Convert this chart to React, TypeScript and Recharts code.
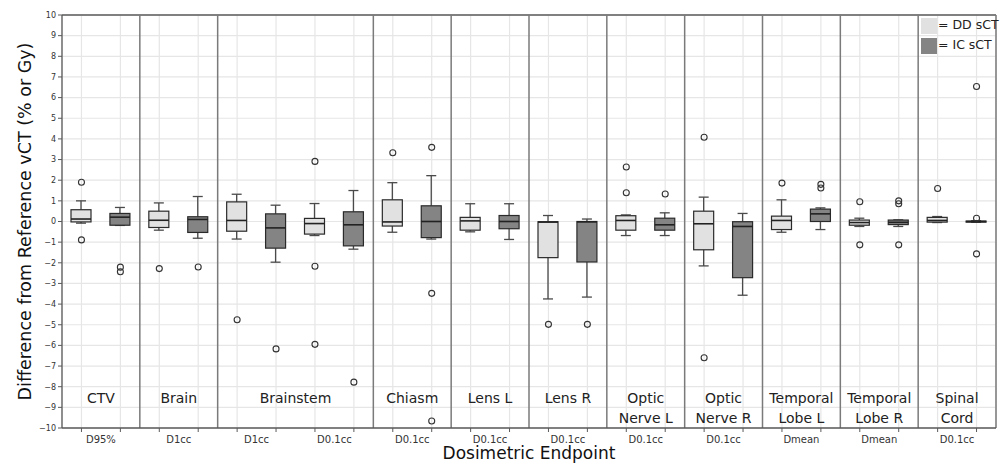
import {
  Bar,
  CartesianGrid,
  ComposedChart,
  Legend,
  ReferenceArea,
  ReferenceLine,
  Scatter,
  XAxis,
  YAxis,
} from 'recharts'

// anatomical regions along the x axis, and how many endpoint pairs each one spans
const REGIONS = [
  'CTV', 'Brain', 'Brainstem', 'Chiasm', 'Lens L', 'Lens R',
  'Optic\nNerve L', 'Optic\nNerve R', 'Temporal\nLobe L', 'Temporal\nLobe R', 'Spinal\nCord',
]
const REGION_PAIRS = [1, 1, 2, 1, 1, 1, 1, 1, 1, 1, 1]
const ENDPOINTS = [
  'D95%', 'D1cc', 'D1cc', 'D0.1cc', 'D0.1cc', 'D0.1cc',
  'D0.1cc', 'D0.1cc', 'D0.1cc', 'Dmean', 'Dmean', 'D0.1cc',
]
const SERIES = ['DD sCT', 'IC sCT']
const SERIES_FILL = ['#e1e1e1', '#848484']

// DD sCT boxes, one per endpoint
const DD_LOW = [-0.08, -0.42, -0.85, -0.68, -0.52, -0.5, -3.75, -0.68, -2.15, -0.52, -0.24, -0.05]
const DD_Q1 = [-0.02, -0.29, -0.47, -0.61, -0.22, -0.42, -1.75, -0.42, -1.37, -0.39, -0.18, -0.03]
const DD_MED = [0.12, 0.06, 0.05, -0.1, -0.02, 0.03, -0.03, 0.05, -0.11, 0.05, -0.05, 0.05]
const DD_Q3 = [0.57, 0.5, 0.95, 0.15, 1.05, 0.2, -0.01, 0.28, 0.5, 0.26, 0.07, 0.2]
const DD_HIGH = [1.0, 0.9, 1.32, 0.87, 1.88, 0.86, 0.29, 0.32, 1.18, 1.05, 0.16, 0.24]
const DD_OUT = [
  [1.9, -0.89], [-2.28], [-4.76], [2.91, -2.17, -5.95], [3.33], [],
  [-4.98], [2.64, 1.39], [4.08, -6.6], [1.86], [0.96, -1.13], [1.6],
]

// IC sCT boxes
const IC_LOW = [-0.19, -0.81, -1.97, -1.34, -0.85, -0.87, -3.66, -0.68, -3.57, -0.39, -0.24, -0.04]
const IC_Q1 = [-0.18, -0.53, -1.29, -1.18, -0.78, -0.35, -1.96, -0.42, -2.72, 0.0, -0.15, -0.03]
const IC_MED = [0.21, 0.1, -0.31, -0.16, 0.0, 0.0, -0.02, -0.16, -0.24, 0.37, -0.04, 0.0]
const IC_Q3 = [0.39, 0.23, 0.37, 0.47, 0.76, 0.29, 0.0, 0.16, -0.01, 0.6, 0.07, 0.02]
const IC_HIGH = [0.68, 1.21, 0.79, 1.5, 2.22, 0.86, 0.12, 0.42, 0.39, 0.66, 0.08, 0.04]
const IC_OUT = [
  [-2.21, -2.43], [-2.2], [-6.17], [-7.78], [3.59, -3.48, -9.66], [],
  [-4.98], [1.33], [], [1.8, 1.62], [1.0, 0.86, -1.13], [6.54, 0.16, -1.57],
]

const Y_TICKS = [-10, -9, -8, -7, -6, -5, -4, -3, -2, -1, 0, 1, 2, 3, 4, 5, 6, 7, 8, 9, 10]

const WIDTH = 1003
const HEIGHT = 464
const MARGIN = { top: 15, right: 7, bottom: 0, left: 0 }
const Y_AXIS_W = 62
const X_AXIS_H = 36
const SLOT_COUNT = ENDPOINTS.length * 2
const BAND = (WIDTH - MARGIN.left - MARGIN.right - Y_AXIS_W) / SLOT_COUNT
const FONT = '"DejaVu Sans", sans-serif'
const AXIS_COLOR = '#5a5a5a'

interface BoxRow {
  x: number
  lo: number
  q1: number
  med: number
  q3: number
  hi: number
  out: number[]
  range: [number, number]
  fill: string
}

const BOX_ROWS: BoxRow[] = ENDPOINTS.flatMap((_, i) => [
  {
    x: i * 2 + 0.5,
    lo: DD_LOW[i], q1: DD_Q1[i], med: DD_MED[i], q3: DD_Q3[i], hi: DD_HIGH[i],
    out: DD_OUT[i],
    range: [DD_LOW[i], DD_HIGH[i]] as [number, number],
    fill: SERIES_FILL[0],
  },
  {
    x: i * 2 + 1.5,
    lo: IC_LOW[i], q1: IC_Q1[i], med: IC_MED[i], q3: IC_Q3[i], hi: IC_HIGH[i],
    out: IC_OUT[i],
    range: [IC_LOW[i], IC_HIGH[i]] as [number, number],
    fill: SERIES_FILL[1],
  },
])

const OUTLIER_ROWS = BOX_ROWS.flatMap((r) => r.out.map((v) => ({ x: r.x, v })))
const SLOT_TICKS = BOX_ROWS.map((r) => r.x)

// region spans in x units (2 slots per endpoint pair)
const REGION_SPANS = REGIONS.map((name, i) => {
  const start = REGION_PAIRS.slice(0, i).reduce((s, n) => s + n, 0) * 2
  return { name, x1: start, x2: start + REGION_PAIRS[i] * 2 }
})

function BoxShape(props: any) {
  const { x, y, width, height, payload } = props
  if (!payload || width == null) return null
  const top = Math.min(y, y + height)
  const bottom = Math.max(y, y + height)
  const span = payload.hi - payload.lo
  // linear map inside the whisker range the library already scaled
  const toY = (v: number) => (span === 0 ? top : top + ((payload.hi - v) / span) * (bottom - top))
  const cx = x + width / 2
  const cap = width / 4
  const yQ3 = toY(payload.q3)
  const yQ1 = toY(payload.q1)
  const yMed = toY(payload.med)
  return (
    <g>
      <line x1={cx} x2={cx} y1={top} y2={yQ3} stroke="#4a4a4a" strokeWidth={1.3} />
      <line x1={cx} x2={cx} y1={yQ1} y2={bottom} stroke="#4a4a4a" strokeWidth={1.3} />
      <line x1={cx - cap} x2={cx + cap} y1={top} y2={top} stroke="#4a4a4a" strokeWidth={1.3} />
      <line x1={cx - cap} x2={cx + cap} y1={bottom} y2={bottom} stroke="#4a4a4a" strokeWidth={1.3} />
      <rect
        x={x}
        y={yQ3}
        width={width}
        height={Math.max(yQ1 - yQ3, 0.5)}
        fill={payload.fill}
        stroke="#2a2a2a"
        strokeWidth={1.2}
      />
      <line x1={x} x2={x + width} y1={yMed} y2={yMed} stroke="#222" strokeWidth={1.6} />
    </g>
  )
}

function OutlierDot(props: any) {
  const { cx, cy } = props
  if (cx == null || cy == null) return null
  return <circle cx={cx} cy={cy} r={3} fill="none" stroke="#333" strokeWidth={1.1} />
}

function EndpointTick(props: any) {
  const { x, y, payload } = props
  const slot = Math.floor(payload.value)
  if (slot % 2 === 1) return <g />
  return (
    <text
      x={x + BAND / 2}
      y={y + 8.5}
      textAnchor="middle"
      fontSize={10}
      fontFamily={FONT}
      fill="#333"
    >
      {ENDPOINTS[slot / 2]}
    </text>
  )
}

function RegionLabel(name: string) {
  return (props: any) => {
    const vb = props.viewBox
    if (!vb) return null
    const lines = name.split('\n')
    return (
      <text
        x={vb.x + vb.width / 2}
        y={vb.y}
        textAnchor="middle"
        fontSize={14}
        fontFamily={FONT}
        fill="#222"
      >
        {lines.map((ln, i) => (
          <tspan key={ln} x={vb.x + vb.width / 2} dy={i === 0 ? 0 : 19.5}>
            {ln}
          </tspan>
        ))}
      </text>
    )
  }
}

function YLabel(props: any) {
  const vb = props.viewBox
  const cy = vb.y + vb.height / 2
  return (
    <text
      x={30.5}
      y={cy}
      transform={`rotate(-90, 30.5, ${cy})`}
      textAnchor="middle"
      fontSize={17.5}
      fontFamily={FONT}
      fill="#111"
    >
      Difference from Reference vCT (% or Gy)
    </text>
  )
}

function XLabel(props: any) {
  const vb = props.viewBox
  return (
    <text
      x={vb.x + vb.width / 2}
      y={459}
      textAnchor="middle"
      fontSize={17}
      fontFamily={FONT}
      fill="#111"
    >
      Dosimetric Endpoint
    </text>
  )
}

function LegendContent() {
  return (
    <div style={{ fontFamily: FONT, fontSize: 12.5, color: '#222', lineHeight: '16px' }}>
      {SERIES.map((name, i) => (
        <div key={name} style={{ display: 'flex', alignItems: 'center', height: 20 }}>
          <span
            style={{ width: 16, height: 16, background: SERIES_FILL[i], display: 'inline-block' }}
          />
          <span style={{ marginLeft: 1, marginTop: -3, whiteSpace: 'nowrap' }}>= {name}</span>
        </div>
      ))}
    </div>
  )
}

export default function App() {
  return (
    <div style={{ position: 'absolute', left: 0, top: 0, background: '#fff' }}>
      <ComposedChart
        width={WIDTH}
        height={HEIGHT}
        data={BOX_ROWS}
        margin={MARGIN}
        style={{ fontFamily: FONT }}
      >
        <CartesianGrid stroke="#e6e6e6" strokeWidth={1.2} />
        <XAxis
          dataKey="x"
          type="number"
          domain={[0, SLOT_COUNT]}
          ticks={SLOT_TICKS}
          interval={0}
          height={X_AXIS_H}
          tick={EndpointTick}
          tickSize={4}
          tickLine={{ stroke: AXIS_COLOR }}
          axisLine={{ stroke: AXIS_COLOR, strokeWidth: 1.3 }}
          label={XLabel}
        />
        <YAxis
          type="number"
          domain={[-10, 10]}
          ticks={Y_TICKS}
          interval={0}
          width={Y_AXIS_W}
          tickSize={4}
          tick={{ fontSize: 8, fill: '#333', fontFamily: FONT }}
          tickLine={{ stroke: AXIS_COLOR }}
          axisLine={{ stroke: AXIS_COLOR, strokeWidth: 1.3 }}
          tickFormatter={(v: number) => (v < 0 ? `\u2212${-v}` : `${v}`)}
          label={YLabel}
        />
        <ReferenceLine y={10} stroke={AXIS_COLOR} strokeWidth={1.3} />
        {REGION_SPANS.map((r) => (
          <ReferenceLine key={`sep-${r.name}`} x={r.x2} stroke="#7a7a7a" strokeWidth={1.5} />
        ))}
        {REGION_SPANS.map((r) => (
          <ReferenceArea
            key={`lab-${r.name}`}
            x1={r.x1}
            x2={r.x2}
            y1={-10}
            y2={-8.8}
            fill="none"
            stroke="none"
            label={RegionLabel(r.name)}
          />
        ))}
        <Bar dataKey="range" barSize={20} shape={BoxShape} isAnimationActive={false} />
        <Scatter
          data={OUTLIER_ROWS}
          dataKey="v"
          shape={OutlierDot}
          isAnimationActive={false}
        />
        <Legend
          layout="horizontal"
          verticalAlign="middle"
          align="center"
          content={LegendContent}
          wrapperStyle={{ left: 921, top: 16, width: 80, height: 42 }}
        />
      </ComposedChart>
    </div>
  )
}
